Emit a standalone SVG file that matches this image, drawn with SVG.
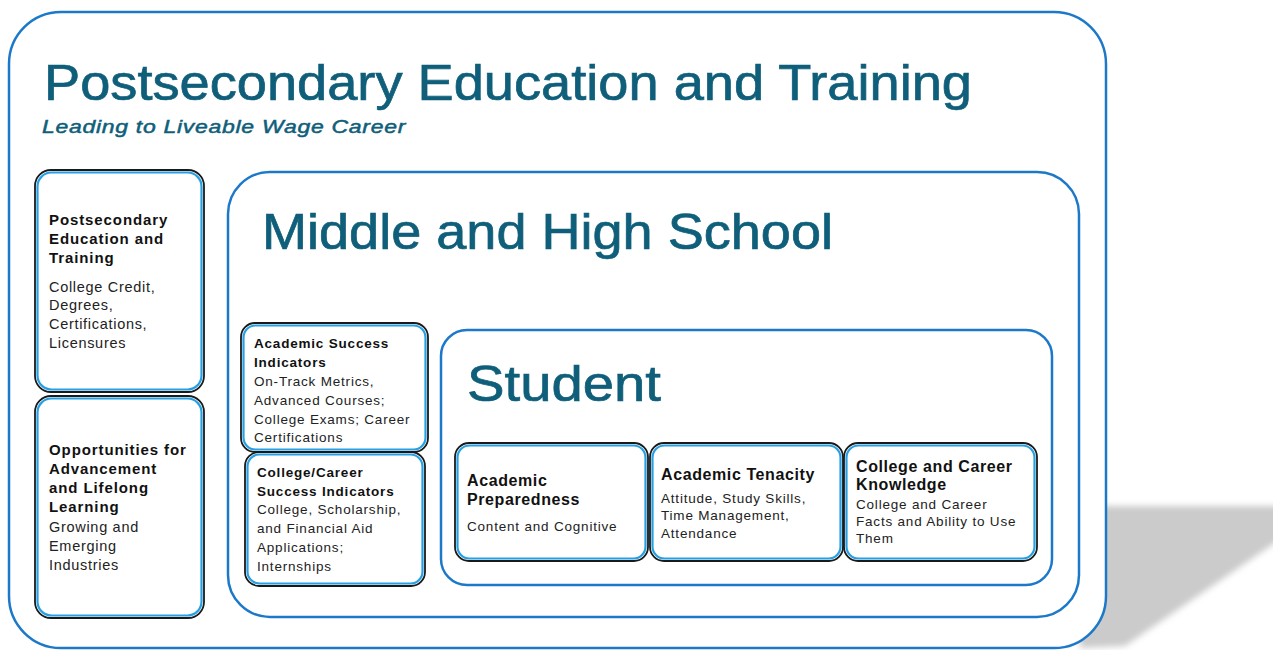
<svg xmlns="http://www.w3.org/2000/svg" width="1273" height="650" viewBox="0 0 1273 650">
<defs>
<filter id="blur" x="-10%" y="-10%" width="120%" height="120%">
<feGaussianBlur stdDeviation="3"/>
</filter>
<style>
.frame{fill:#fff;stroke:#1c78c9;stroke-width:2.5}
.bo{fill:#fff;stroke:#1a1a1a;stroke-width:1.8}
.bi{fill:none;stroke:#26a0e4;stroke-width:2.2}
.big{font-family:"Liberation Sans",Arial,sans-serif;fill:#0f5e7a;stroke:#0f5e7a;stroke-width:0.7}
.sub{font-family:"Liberation Sans",Arial,sans-serif;font-style:italic;fill:#0f5e7a;stroke:#0f5e7a;stroke-width:0.5;font-size:19px;letter-spacing:0.6px}
.h{font-family:"Liberation Sans",Arial,sans-serif;font-weight:bold;fill:#111;font-size:15px;letter-spacing:0.9px}
.t{font-family:"Liberation Sans",Arial,sans-serif;fill:#222;font-size:14.5px;letter-spacing:0.7px}
.hs{font-family:"Liberation Sans",Arial,sans-serif;font-weight:bold;fill:#111;font-size:13.5px;letter-spacing:0.8px}
.ts{font-family:"Liberation Sans",Arial,sans-serif;fill:#222;font-size:13.5px;letter-spacing:0.8px}
.hm{font-family:"Liberation Sans",Arial,sans-serif;font-weight:bold;fill:#111;font-size:16px;letter-spacing:0.6px}
.tm{font-family:"Liberation Sans",Arial,sans-serif;fill:#222;font-size:13.5px;letter-spacing:0.8px}
</style>
</defs>
<rect width="1273" height="650" fill="#fff"/>
<polygon points="1080,506 1285,506 1285,536 1125,646 1080,648" fill="#cbcbcb" filter="url(#blur)"/>

<g id="postsecondary-frame">
<rect class="frame" x="9" y="12" width="1097" height="636" rx="52"/>
<text class="big" x="44" y="100" font-size="50" textLength="928" lengthAdjust="spacingAndGlyphs">Postsecondary Education and Training</text>
<text class="sub" x="42" y="133" textLength="364" lengthAdjust="spacingAndGlyphs">Leading to Liveable Wage Career</text>
</g>

<g id="box-postsecondary">
<rect class="bo" x="35" y="170" width="169" height="222" rx="16"/>
<rect class="bi" x="37.5" y="172.5" width="164" height="217" rx="14"/>
<text class="h" x="49" y="225">Postsecondary</text>
<text class="h" x="49" y="244">Education and</text>
<text class="h" x="49" y="263">Training</text>
<text class="t" x="49" y="292">College Credit,</text>
<text class="t" x="49" y="310">Degrees,</text>
<text class="t" x="49" y="329">Certifications,</text>
<text class="t" x="49" y="348">Licensures</text>
</g>

<g id="box-opportunities">
<rect class="bo" x="35" y="396" width="169" height="222" rx="16"/>
<rect class="bi" x="37.5" y="398.5" width="164" height="217" rx="14"/>
<text class="h" x="49" y="455">Opportunities for</text>
<text class="h" x="49" y="474">Advancement</text>
<text class="h" x="49" y="493">and Lifelong</text>
<text class="h" x="49" y="512">Learning</text>
<text class="t" x="49" y="532">Growing and</text>
<text class="t" x="49" y="551">Emerging</text>
<text class="t" x="49" y="570">Industries</text>
</g>

<g id="middle-high-frame">
<rect class="frame" x="228" y="172" width="851" height="445" rx="42"/>
<text class="big" x="262" y="249" font-size="50" textLength="571" lengthAdjust="spacingAndGlyphs">Middle and High School</text>
</g>

<g id="box-academic-success">
<rect class="bo" x="241" y="323" width="187" height="129" rx="14"/>
<rect class="bi" x="243.5" y="325.5" width="182" height="124" rx="12"/>
<text class="hs" x="254" y="348">Academic Success</text>
<text class="hs" x="254" y="367">Indicators</text>
<text class="ts" x="254" y="386">On-Track Metrics,</text>
<text class="ts" x="254" y="405">Advanced Courses;</text>
<text class="ts" x="254" y="424">College Exams; Career</text>
<text class="ts" x="254" y="442">Certifications</text>
</g>

<g id="box-college-career-success">
<rect class="bo" x="245" y="452" width="180" height="134" rx="14"/>
<rect class="bi" x="247.5" y="454.5" width="175" height="129" rx="12"/>
<text class="hs" x="257" y="477">College/Career</text>
<text class="hs" x="257" y="496">Success Indicators</text>
<text class="ts" x="257" y="514">College, Scholarship,</text>
<text class="ts" x="257" y="533">and Financial Aid</text>
<text class="ts" x="257" y="552">Applications;</text>
<text class="ts" x="257" y="571">Internships</text>
</g>

<g id="student-frame">
<rect class="frame" x="441" y="330" width="611" height="255" rx="26"/>
<text class="big" x="467" y="401" font-size="50" textLength="194" lengthAdjust="spacingAndGlyphs">Student</text>
</g>

<g id="box-academic-preparedness">
<rect class="bo" x="455" y="443" width="193" height="118" rx="14"/>
<rect class="bi" x="457.5" y="445.5" width="188" height="113" rx="12"/>
<text class="hm" x="467" y="486">Academic</text>
<text class="hm" x="467" y="505">Preparedness</text>
<text class="tm" x="467" y="531">Content and Cognitive</text>
</g>

<g id="box-academic-tenacity">
<rect class="bo" x="650" y="443" width="193" height="118" rx="14"/>
<rect class="bi" x="652.5" y="445.5" width="188" height="113" rx="12"/>
<text class="hm" x="661" y="480">Academic Tenacity</text>
<text class="tm" x="661" y="503">Attitude, Study Skills,</text>
<text class="tm" x="661" y="520">Time Management,</text>
<text class="tm" x="661" y="538">Attendance</text>
</g>

<g id="box-college-career-knowledge">
<rect class="bo" x="844" y="443" width="193" height="118" rx="14"/>
<rect class="bi" x="846.5" y="445.5" width="188" height="113" rx="12"/>
<text class="hm" x="856" y="472">College and Career</text>
<text class="hm" x="856" y="490">Knowledge</text>
<text class="tm" x="856" y="509">College and Career</text>
<text class="tm" x="856" y="526">Facts and Ability to Use</text>
<text class="tm" x="856" y="543">Them</text>
</g>

<g id="connectors"></g>
</svg>
